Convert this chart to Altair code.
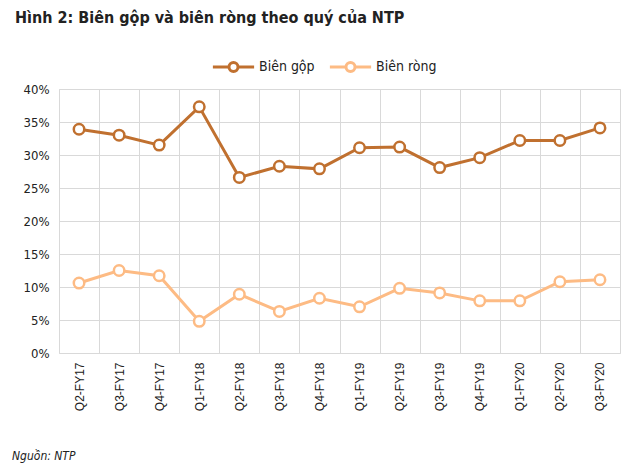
import altair as alt
import pandas as pd

quarters = ["Q2-FY17", "Q3-FY17", "Q4-FY17", "Q1-FY18", "Q2-FY18", "Q3-FY18", "Q4-FY18",
            "Q1-FY19", "Q2-FY19", "Q3-FY19", "Q4-FY19", "Q1-FY20", "Q2-FY20", "Q3-FY20"]
bien_gop = [33.9, 33.0, 31.5, 37.3, 26.6, 28.3, 27.9, 31.1, 31.2, 28.1, 29.6, 32.2, 32.2, 34.1]
bien_rong = [10.6, 12.5, 11.7, 4.8, 8.9, 6.3, 8.3, 7.0, 9.8, 9.1, 7.9, 7.9, 10.8, 11.1]
series_names = ["Biên gộp", "Biên ròng"]
series_colors = ["#C0702F", "#FDBB84"]
title_text = "Hình 2: Biên gộp và biên ròng theo quý của NTP"
source_text = "Nguồn: NTP"

rows = []
for q, g, r in zip(quarters, bien_gop, bien_rong):
    rows.append({"quarter": q, "series": series_names[0], "value": g / 100})
    rows.append({"quarter": q, "series": series_names[1], "value": r / 100})
df = pd.DataFrame(rows)

NARROW = "Liberation Sans Narrow, DejaVu Sans Condensed, Open Sans, sans-serif"
W, H = 561, 264

legend_path = ("M-1,0H-0.22 M0.22,0H1 "
               "M0.22,0 A0.22,0.22 0 1,1 -0.22,0 A0.22,0.22 0 1,1 0.22,0 Z")

x_enc = alt.X(
    "quarter:N", sort=quarters, title=None, bandPosition=0.5,
    scale=alt.Scale(type="band", paddingInner=0, paddingOuter=0),
    axis=alt.Axis(labelAngle=270, labelAlign="right", labelBaseline="middle",
                  labelPadding=9, labelFontSize=12, labelColor="#222",
                  labelFont="Liberation Sans, Arial, sans-serif",
                  tickBand="extent", grid=True, gridColor="#d9d9d9", gridWidth=1,
                  ticks=False, domain=False),
)
y_enc = alt.Y(
    "value:Q", title=None,
    scale=alt.Scale(domain=[0, 0.4], nice=False),
    axis=alt.Axis(values=[0, 0.05, 0.1, 0.15, 0.2, 0.25, 0.3, 0.35, 0.4], format=".0%",
                  labelFontSize=13, labelColor="#222", labelFont=NARROW, labelPadding=10,
                  grid=True, gridColor="#d9d9d9", gridWidth=1, ticks=False, domain=False),
)
color_enc = alt.Color(
    "series:N", sort=series_names, title=None,
    scale=alt.Scale(domain=series_names, range=series_colors),
    legend=alt.Legend(orient="none", legendX=152, legendY=-45, direction="horizontal",
                      symbolType=legend_path, symbolSize=1700, symbolStrokeWidth=3,
                      symbolFillColor="white", labelFontSize=14, labelFont=NARROW,
                      labelColor="#222", columnPadding=8, labelOffset=3),
)

base = alt.Chart(df)
lines = base.mark_line(strokeWidth=3).encode(x=x_enc, y=y_enc, color=color_enc)
points = base.mark_point(filled=False, fill="white", fillOpacity=1, size=110, strokeWidth=2.5, opacity=1).encode(
    x=x_enc, y=y_enc, color=alt.Color("series:N", sort=series_names, scale=alt.Scale(domain=series_names, range=series_colors), legend=None))

title = alt.Chart(pd.DataFrame({"t": [title_text]})).mark_text(
    align="left", baseline="alphabetic", fontSize=16, fontWeight="bold", font=NARROW, color="#222"
).encode(text="t:N", x=alt.value(-44), y=alt.value(-66))

source = alt.Chart(pd.DataFrame({"t": [source_text]})).mark_text(
    align="left", baseline="alphabetic", fontSize=12, fontStyle="italic", font=NARROW, color="#222"
).encode(text="t:N", x=alt.value(-47), y=alt.value(H + 107))

chart = alt.layer(lines, points, title, source).properties(
    width=W, height=H,
    autosize=alt.AutoSizeParams(type="none"),
    padding={"left": 51, "top": 81, "right": 12, "bottom": 110},
).configure_view(fill="#eeeeee", stroke="#d9d9d9", strokeWidth=1).configure(background="white")

chart.save("out.html", embed_options={"renderer": "svg", "actions": False})
